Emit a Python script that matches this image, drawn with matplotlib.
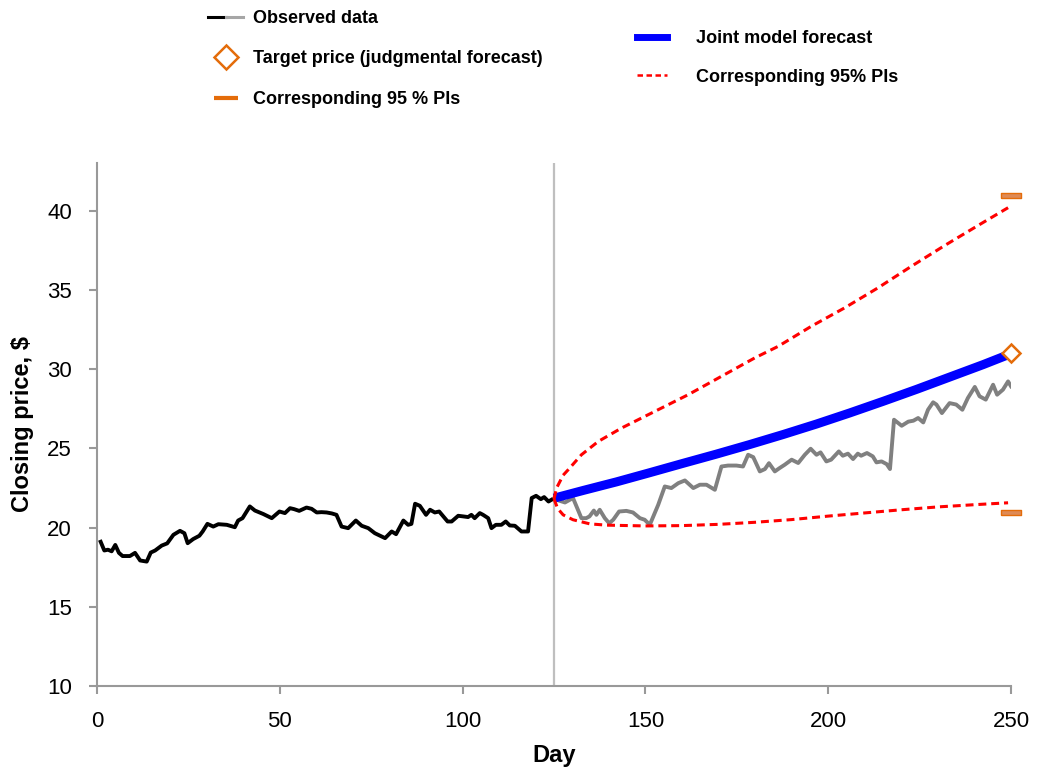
import matplotlib
matplotlib.use("Agg")
import matplotlib.pyplot as plt
from matplotlib.lines import Line2D
from matplotlib.legend_handler import HandlerTuple
from matplotlib.font_manager import FontProperties

# ---------------- data ----------------
obs_days = [1, 2, 3, 4, 5, 6, 7, 9, 10.4, 11.8, 13.6, 14.7, 15.9, 17.7, 19.2, 20.9,
            22.7, 23.9, 24.8, 26.3, 28, 28.9, 30.2, 31.8, 33.2, 35.5, 37.7, 38.6,
            39.8, 41.8, 43.2, 45.5, 47.8, 49.9, 51.4, 52.8, 53.9, 55.3, 57.3, 58.7,
            60.1, 61.4, 62.8, 64.2, 65.5, 66.9, 68.7, 70.8, 72.4, 74.2, 76.0, 78.8,
            80.6, 81.8, 83.8, 85.1, 86.0, 87.0, 88.3, 90.0, 91.1, 92.4, 93.6, 95.9,
            97.0, 98.8, 100.2, 101.5, 102.4, 103.3, 104.7, 105.6, 107.0, 107.9,
            109.1, 110.6, 111.8, 112.9, 114.3, 116.1, 117.9, 118.9, 120.1, 121.4,
            122.3, 123.5, 124.3]
obs_price = [19.1, 18.55, 18.6, 18.5, 18.9, 18.4, 18.2, 18.2, 18.4, 17.92, 17.85,
             18.42, 18.55, 18.86, 19.0, 19.54, 19.79, 19.64, 19.01, 19.27, 19.48,
             19.75, 20.23, 20.06, 20.21, 20.17, 20.02, 20.44, 20.59, 21.33, 21.07,
             20.85, 20.59, 21.01, 20.91, 21.22, 21.16, 21.05, 21.26, 21.18, 20.95,
             20.97, 20.95, 20.89, 20.80, 20.06, 19.96, 20.44, 20.11, 19.96, 19.64,
             19.33, 19.75, 19.58, 20.44, 20.17, 20.23, 21.50, 21.37, 20.80, 21.12,
             20.95, 21.01, 20.38, 20.38, 20.74, 20.70, 20.66, 20.80, 20.59, 20.91,
             20.80, 20.59, 19.96, 20.17, 20.17, 20.38, 20.13, 20.11, 19.75, 19.75,
             21.86, 22.00, 21.79, 21.92, 21.64, 21.75]

hold_days = [125, 128, 130.2, 132.5, 133.8, 134.7, 135.9, 136.6, 137.5, 138.9,
             140.1, 141.2, 142.8, 144.8, 146.6, 148.5, 149.8, 151.2, 153.5, 155.3,
             157.1, 159.0, 160.8, 163.1, 164.9, 166.7, 169.0, 170.8, 172.6, 174.9,
             176.7, 178.1, 179.5, 181.3, 182.7, 183.8, 185.4, 186.7, 188.1, 190.0,
             191.8, 193.6, 195.2, 196.8, 197.9, 199.5, 200.8, 202.9, 204.0, 205.4,
             206.8, 208.1, 209.0, 210.6, 212.2, 213.2, 214.6, 216.0, 216.9, 218.0,
             220.1, 221.9, 223.3, 224.6, 226.0, 227.3, 228.7, 229.6, 231.1, 233.2,
             235.0, 236.7, 238.2, 240.1, 241.4, 243.1, 245.1, 246.2, 247.8, 249.2,
             250.0]
hold_price = [21.8, 21.58, 21.86, 20.59, 20.59, 20.70, 21.07, 20.80, 21.12, 20.59,
              20.27, 20.49, 21.01, 21.05, 20.95, 20.59, 20.49, 20.17, 21.43, 22.59,
              22.49, 22.80, 22.97, 22.49, 22.70, 22.70, 22.38, 23.85, 23.91, 23.91,
              23.85, 24.59, 24.44, 23.54, 23.69, 24.06, 23.54, 23.75, 23.96, 24.28,
              24.07, 24.59, 24.97, 24.59, 24.74, 24.17, 24.28, 24.80, 24.53, 24.66,
              24.32, 24.66, 24.53, 24.70, 24.49, 24.11, 24.17, 24.0, 23.69, 26.80,
              26.42, 26.68, 26.74, 26.91, 26.63, 27.43, 27.90, 27.76, 27.22, 27.85,
              27.76, 27.43, 28.17, 28.87, 28.28, 28.07, 29.01, 28.38, 28.70, 29.22,
              28.91]

fc_days = [125, 133, 142.1, 151.2, 160.3, 169.4, 178.6, 187.7, 196.8, 205.9,
           215.0, 224.2, 233.3, 242.4, 250]
fc_price = [21.85, 22.34, 22.88, 23.46, 24.05, 24.63, 25.24, 25.87, 26.53, 27.23,
            27.96, 28.72, 29.5, 30.28, 30.97]

pi_up_days = [125, 125.7, 127.5, 128.9, 132.5, 137.1, 143.5, 152.6, 161.7, 170.8,
              179.9, 186.3, 195.4, 204.5, 213.6, 222.8, 231.9, 241, 249.2]
pi_up = [21.8, 22.49, 23.3, 23.65, 24.59, 25.43, 26.28, 27.33, 28.38, 29.54,
         30.70, 31.43, 32.70, 33.86, 35.12, 36.49, 37.80, 39.06, 40.18]

pi_lo_days = [125, 126, 127.5, 130.2, 134.8, 139.3, 150, 160, 170, 180, 190, 200,
              210, 220, 230, 240, 249.2]
pi_lo = [21.8, 21.2, 20.8, 20.49, 20.23, 20.15, 20.1, 20.12, 20.2, 20.33, 20.5,
         20.72, 20.92, 21.12, 21.3, 21.44, 21.56]

target_day = [250]
target_price = [31.0]
target_pi = [41.0, 21.0]

forecast_origin = 125
x_ticks = [0, 50, 100, 150, 200, 250]
y_ticks = [10, 15, 20, 25, 30, 35, 40]

# ---------------- figure ----------------
plt.rcParams['font.family'] = ['Liberation Sans', 'DejaVu Sans']
fig = plt.figure(figsize=(10.37, 7.78), dpi=100)
ax = fig.add_axes([97 / 1037, 1 - 686 / 778, (1011 - 97) / 1037, (686 - 163) / 778])

ORANGE = '#E46C0A'
ax.axvline(forecast_origin, color='#BFBFBF', lw=1.6, zorder=1)
ax.plot(obs_days, obs_price, color='black', lw=2.8, solid_joinstyle='round', zorder=3)
ax.plot(hold_days, hold_price, color='#808080', lw=2.8, solid_joinstyle='round', zorder=2)
ax.plot(fc_days, fc_price, color='#0000FF', lw=6.5, solid_capstyle='butt',
        solid_joinstyle='round', zorder=4)
ax.plot(pi_up_days, pi_up, color='#FF0000', lw=2.2, ls=(0, (2.6, 1.6)), zorder=5)
ax.plot(pi_lo_days, pi_lo, color='#FF0000', lw=2.2, ls=(0, (2.6, 1.6)), zorder=5)

rect = [(-1, -0.25), (1, -0.25), (1, 0.25), (-1, 0.25), (-1, -0.25)]
ax.plot(target_day * 2, target_pi, ls='none', marker=rect, ms=14.4,
        mfc='#DE8A55', mec=ORANGE, mew=1.0, zorder=6, clip_on=False)
ax.plot(target_day, target_price, ls='none', marker='D', ms=8.7,
        mfc='white', mec=ORANGE, mew=1.8, zorder=7, clip_on=False)

ax.set_xlim(0, 250)
ax.set_ylim(10, 43)
ax.set_xticks(x_ticks)
ax.set_yticks(y_ticks)
for s in ['top', 'right']:
    ax.spines[s].set_visible(False)
for s in ['left', 'bottom']:
    ax.spines[s].set_color('#999999')
    ax.spines[s].set_linewidth(1.5)
ax.tick_params(axis='both', colors='#999999', width=1.5, length=6,
               labelcolor='black', labelsize=16)
ax.tick_params(axis='x', pad=12)
ax.tick_params(axis='y', pad=12)

ax.set_xlabel('Day', fontsize=17, fontweight='bold')
ax.set_ylabel('Closing price, $', fontsize=17, fontweight='bold')
ax.xaxis.set_label_coords(0.5, -0.11)
ax.yaxis.set_label_coords(-0.069, 0.5)

# ---------------- legends ----------------
lp = FontProperties(family='Liberation Sans', weight='bold', size=13)
h_obs = (Line2D([], [], color='black', lw=2.2), Line2D([], [], color='#A6A6A6', lw=2.2))
h_dia = Line2D([], [], ls='none', marker='D', ms=12, mfc='white', mec=ORANGE, mew=1.8)
h_bar = Line2D([], [], ls='none', marker='_', ms=17, mec=ORANGE, mew=3)
leg1 = fig.legend(handles=[h_obs, h_dia, h_bar],
                  labels=['Observed data', 'Target price (judgmental forecast)',
                          'Corresponding 95 % PIs'],
                  handler_map={tuple: HandlerTuple(ndivide=None, pad=0)},
                  loc='upper left', bbox_to_anchor=(208 / 1037, 1 - 10 / 778),
                  frameon=False, borderpad=0, borderaxespad=0,
                  handlelength=1.95, handletextpad=0.55, labelspacing=1.3, prop=lp)
h_fc = Line2D([], [], color='#0000FF', lw=5)
h_pi = Line2D([], [], color='#FF0000', lw=1.8, ls=(0, (2.2, 1.4)))
leg2 = fig.legend(handles=[h_fc, h_pi],
                  labels=['Joint model forecast', 'Corresponding 95% PIs'],
                  loc='upper left', bbox_to_anchor=(637 / 1037, 1 - 30 / 778),
                  frameon=False, borderpad=0, borderaxespad=0,
                  handlelength=1.67, handletextpad=1.6, labelspacing=1.2, prop=lp)

fig.savefig('out.png', dpi=100)
